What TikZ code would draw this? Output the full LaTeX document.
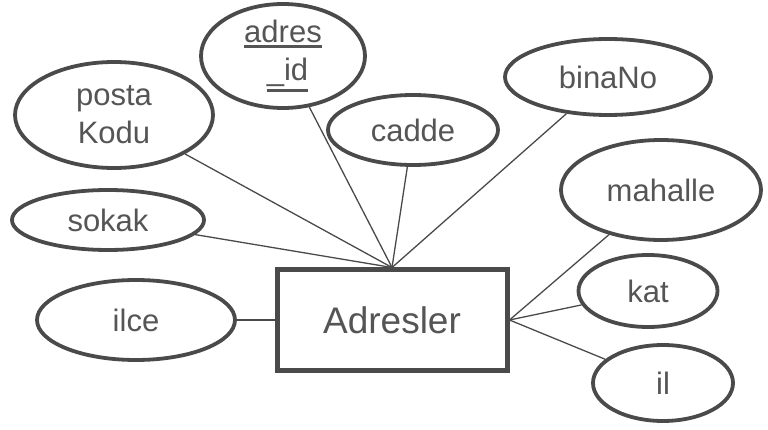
\documentclass[tikz,border=0pt]{standalone}
\usepackage{fontspec}
\setmainfont{Liberation Sans}
\usetikzlibrary{shapes.geometric}
\definecolor{strk}{HTML}{4A4A4A}
\definecolor{txt}{HTML}{555555}
\newcommand\thickul[1]{\leavevmode\vtop{\hbox{#1}\kern2.5pt\hrule height 3.5pt}}
\begin{document}
\begin{tikzpicture}[x=1pt,y=-1pt,
  attr/.style={ellipse,draw=strk,line width=3.8pt,fill=white,inner sep=0pt,
    text=txt,align=center,font=\fontsize{31}{38}\selectfont},
  ent/.style={rectangle,draw=strk,line width=5pt,fill=white,inner sep=0pt,
    text=txt,font=\fontsize{37}{44}\selectfont,minimum width=230pt,minimum height=100pt},
  conn/.style={draw=strk,line width=1.3pt}]
\useasboundingbox (0,0) rectangle (768,430);
\node[ent] (E) at (392,320) {Adresler};
\node[attr,minimum width=164pt,minimum height=104pt] (aid) at (283,56) {\thickul{adres}\\\hspace*{9pt}\thickul{\_id}};
\node[attr,minimum width=198pt,minimum height=106pt] (pk) at (114,115) {posta\\Kodu};
\node[attr,minimum width=192pt,minimum height=60pt] (sok) at (108,220) {sokak};
\node[attr,minimum width=198pt,minimum height=80pt] (ilce) at (136,320) {ilce};
\node[attr,minimum width=170pt,minimum height=70pt] (cad) at (413,130) {cadde};
\node[attr,minimum width=206pt,minimum height=76pt] (bn) at (608,77) {binaNo};
\node[attr,minimum width=200pt,minimum height=100pt] (mah) at (661,190) {mahalle};
\node[attr,minimum width=139pt,minimum height=72pt] (kat) at (648,291) {kat};
\node[attr,minimum width=140pt,minimum height=76pt] (il) at (663,383) {il};
\draw[conn] (E.north) -- (pk);
\draw[conn] (E.north) -- (sok);
\draw[conn] (E.north) -- (aid);
\draw[conn] (E.north) -- (cad);
\draw[conn] (E.north) -- (bn);
\draw[conn] (E.east) -- (mah);
\draw[conn] (E.east) -- (kat);
\draw[conn] (E.east) -- (il);
\draw[conn] (E.west) -- (ilce);
\end{tikzpicture}
\end{document}
